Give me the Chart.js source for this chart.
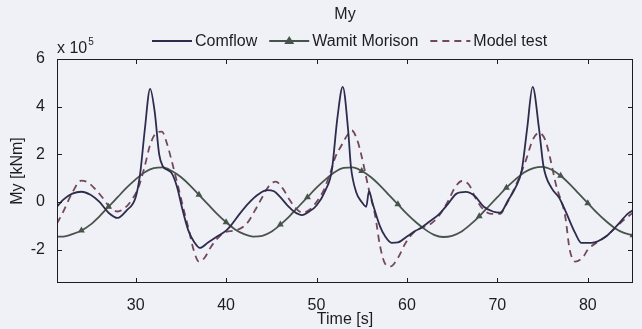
<!DOCTYPE html>
<html>
<head>
<meta charset="utf-8">
<script src="https://cdn.jsdelivr.net/npm/chart.js@4"></script>
<style>
  html, body { margin: 0; padding: 0; background: #f0f0f7; }
</style>
</head>
<body>
<canvas id="my" width="642" height="329"></canvas>
<script>
// Time [s] and My [x 1e5 kNm]
const comflowT = [21.3, 22, 23, 24, 25, 26, 27, 28, 29, 30, 30.5, 31, 31.6, 32.1, 32.6, 33, 33.5, 34, 34.6, 35.1,
  35.8, 36.5, 37.1, 38, 39, 40, 40.5, 41.5, 42.5, 43.5, 44.5, 45.3, 46, 46.8, 47.5, 48.4, 49.2, 50, 51, 51.7,
  52.3, 52.9, 53.5, 53.8, 54.4, 55, 55.5, 55.8, 56.2, 57, 57.6, 58.3, 59, 60, 61, 61.5, 62.5, 63.5, 64.5, 65.5,
  66.5, 67.5, 68.5, 69.5, 70.3, 71.2, 72, 72.7, 73.3, 73.9, 74.6, 75.1, 76, 76.8, 77.5, 78.6, 79.3, 80.4, 82,
  83.1, 84.5, 85];
const comflowY = [-0.2, 0.1, 0.35, 0.43, 0.3, 0.0, -0.45, -0.67, -0.35, 0.2, 1.2, 3.0, 4.75, 3.8, 2.0, 1.5, 1.35, 1.2, 0.6, -0.2,
  -1.17, -1.7, -1.93, -1.7, -1.45, -1.2, -1.0, -0.5, -0.05, 0.3, 0.5, 0.45, 0.2, -0.15, -0.4, -0.55, -0.4, -0.15, 0.5, 1.34,
  3.5, 4.83, 3.0, 1.5, 0.4, 0.0, -0.2, 0.45, -0.05, -1.0, -1.45, -1.72, -1.7, -1.45, -1.2, -1.1, -0.82, -0.53, -0.1, 0.35,
  0.42, 0.25, -0.2, -0.4, -0.45, 0.08, 0.6, 1.34, 3.1, 4.83, 3.1, 1.5, 0.58, 0.2, -0.35, -1.3, -1.72, -1.72, -1.45,
  -1.04, -0.47, -0.35];

const wamitT = [21.3, 22, 23, 24, 25, 26, 27, 28, 29, 30, 31, 32, 33, 34, 35, 36, 37, 38, 39, 40, 41, 42, 43,
  44, 45, 46, 47, 48, 49, 50, 51, 52, 53, 54, 55, 56, 57, 58, 59, 60, 61, 62, 63, 64, 65, 66, 67, 68, 69, 70,
  71, 72, 73, 74, 75, 76, 77, 78, 79, 80, 81, 82, 83, 84, 85];
const wamitY = [-1.45, -1.45, -1.35, -1.2, -0.95, -0.6, -0.2, 0.2, 0.6, 0.95, 1.25, 1.42, 1.45, 1.3, 1.05, 0.7, 0.3, -0.1, -0.5, -0.85, -1.15, -1.35, -1.45,
  -1.42, -1.25, -0.95, -0.6, -0.2, 0.2, 0.6, 0.95, 1.25, 1.43, 1.45, 1.3, 1.05, 0.7, 0.3, -0.1, -0.5, -0.85, -1.15, -1.38, -1.47, -1.42, -1.25, -0.95, -0.6, -0.2, 0.2,
  0.6, 0.95, 1.25, 1.42, 1.47, 1.35, 1.1, 0.75, 0.35, -0.05, -0.45, -0.8, -1.1, -1.3, -1.4];
// times at which the Wamit triangle markers are visible
const wamitMarkT = [24, 27, 37, 40, 46, 49, 55, 59, 68, 71, 77, 80, 85];

const modelT = [21.3, 22, 23, 24, 24.8, 25.5, 26.3, 27.1, 28, 28.8, 29.5, 30.3, 31, 31.6, 32.3, 32.9, 33.5, 34, 34.6, 35.3,
  35.9, 36.4, 37, 37.6, 38.3, 39, 40, 41, 42.3, 43.2, 44, 44.8, 45.5, 46.3, 47, 47.8, 48.5, 49.3, 50, 50.8,
  51.5, 52.1, 52.8, 53.4, 53.9, 54.5, 55, 55.8, 56.5, 57, 57.6, 58.2, 59, 59.8, 60.7, 61.5, 62.5, 63.5, 64.5, 65.3,
  66.1, 66.9, 67.6, 68.4, 69.3, 70.3, 71, 71.8, 72.5, 73.2, 73.9, 74.6, 75.3, 75.8, 76.5, 77.5, 78, 78.6, 79.5, 80,
  81, 82, 83, 84, 85];
const modelY = [-0.9, -0.4, 0.4, 0.9, 0.8, 0.55, 0.2, -0.2, -0.4, -0.25, 0.05, 0.6, 1.5, 2.4, 2.9, 2.95, 2.4, 1.7, 0.8, -0.3,
  -1.2, -2.0, -2.5, -2.35, -1.9, -1.55, -1.25, -1.2, -0.9, -0.35, 0.2, 0.7, 0.85, 0.55, 0.1, -0.3, -0.45, -0.3, 0.0, 0.5,
  1.2, 1.9, 2.4, 2.8, 3.0, 2.6, 1.9, 0.5, -0.6, -1.8, -2.6, -2.7, -2.35, -1.75, -1.3, -1.1, -0.95, -0.6, 0.0, 0.6,
  0.88, 0.7, 0.15, -0.3, -0.5, -0.5, -0.1, 0.5, 1.1, 1.8, 2.6, 2.9, 2.6, 1.9, 0.7, -0.6, -2.0, -2.5, -2.3, -2.0,
  -1.7, -1.45, -1.1, -0.75, -0.45];

const xTicks = [30, 40, 50, 60, 70, 80];
const yTicks = [-2, 0, 2, 4, 6];

const FONT = '"Liberation Sans", Arial, sans-serif';
const INK = '#1c1c22';

const pts = (t, v) => t.map((x, i) => ({ x: x, y: v[i] }));

// MATLAB-like frame, inward ticks, exponent, title and legend
const decor = {
  id: 'decor',
  afterDatasetsDraw(chart) {
    const { ctx, chartArea: a, scales: { x, y } } = chart;
    ctx.save();
    ctx.strokeStyle = INK;
    ctx.lineWidth = 1;
    ctx.setLineDash([]);
    ctx.strokeRect(a.left + 0.5, a.top + 0.5, a.right - a.left - 1, a.bottom - a.top - 1);
    ctx.beginPath();
    xTicks.forEach(v => {
      const p = Math.round(x.getPixelForValue(v)) + 0.5;
      ctx.moveTo(p, a.bottom); ctx.lineTo(p, a.bottom - 5);
      ctx.moveTo(p, a.top); ctx.lineTo(p, a.top + 5);
    });
    yTicks.forEach(v => {
      const p = Math.round(y.getPixelForValue(v)) + 0.5;
      ctx.moveTo(a.left, p); ctx.lineTo(a.left + 5, p);
      ctx.moveTo(a.right, p); ctx.lineTo(a.right - 5, p);
    });
    ctx.stroke();

    ctx.fillStyle = INK;
    ctx.textBaseline = 'alphabetic';
    ctx.textAlign = 'left';
    ctx.font = '16px ' + FONT;
    ctx.fillText('x 10', a.left, a.top - 6);
    const w = ctx.measureText('x 10').width;
    ctx.font = '10px ' + FONT;
    ctx.fillText('5', a.left + w + 1, a.top - 14);

    ctx.font = '16px ' + FONT;
    ctx.textAlign = 'center';
    ctx.textBaseline = 'middle';
    ctx.fillText('My', 345, 15);

    // legend
    const ly = 41;
    let lx = 152;
    ctx.textAlign = 'left';
    chart.data.datasets.forEach(ds => {
      ctx.strokeStyle = ds.borderColor;
      ctx.lineWidth = 1.8;
      ctx.setLineDash(ds.borderDash || []);
      ctx.beginPath();
      ctx.moveTo(lx, ly); ctx.lineTo(lx + 40, ly);
      ctx.stroke();
      ctx.setLineDash([]);
      if (ds.pointStyle === 'triangle') {
        ctx.fillStyle = ds.borderColor;
        ctx.beginPath();
        ctx.moveTo(lx + 20, ly - 5); ctx.lineTo(lx + 25, ly + 3); ctx.lineTo(lx + 15, ly + 3);
        ctx.closePath(); ctx.fill();
      }
      ctx.fillStyle = INK;
      ctx.fillText(ds.label, lx + 43, ly + 1);
      lx += 43 + ctx.measureText(ds.label).width + 12;
    });
    ctx.restore();
  }
};

new Chart(document.getElementById('my'), {
  type: 'line',
  data: {
    datasets: [
      {
        label: 'Comflow',
        data: pts(comflowT, comflowY),
        borderColor: '#2e2c4c',
        borderWidth: 1.8,
        pointRadius: 0,
        cubicInterpolationMode: 'monotone'
      },
      {
        label: 'Wamit Morison',
        data: pts(wamitT, wamitY),
        borderColor: '#47544a',
        backgroundColor: '#47544a',
        borderWidth: 1.8,
        pointStyle: 'triangle',
        pointRadius: c => (wamitMarkT.includes(wamitT[c.dataIndex]) ? 4 : 0),
        pointBorderWidth: 0,
        cubicInterpolationMode: 'monotone'
      },
      {
        label: 'Model test',
        data: pts(modelT, modelY),
        borderColor: '#74485c',
        borderWidth: 1.8,
        borderDash: [7, 5],
        pointRadius: 0,
        cubicInterpolationMode: 'monotone'
      }
    ]
  },
  options: {
    responsive: false,
    animation: false,
    events: [],
    devicePixelRatio: 1,
    layout: { padding: { top: 59, right: 9, left: 0, bottom: 0 } },
    plugins: {
      legend: { display: false },
      title: { display: false },
      tooltip: { enabled: false }
    },
    scales: {
      x: {
        type: 'linear',
        min: 21.3,
        max: 85,
        afterBuildTicks: s => { s.ticks = xTicks.map(v => ({ value: v })); },
        afterFit: s => { s.height = 46; },
        grid: { display: false },
        border: { display: false },
        ticks: { color: INK, font: { family: FONT, size: 16 }, padding: 5 },
        title: { display: true, text: 'Time [s]', color: INK, font: { family: FONT, size: 16 }, padding: { top: 2, bottom: 0 } }
      },
      y: {
        min: -3.4,
        max: 6,
        afterBuildTicks: s => { s.ticks = yTicks.map(v => ({ value: v })); },
        afterFit: s => { s.width = 57; },
        grid: { display: false },
        border: { display: false },
        ticks: { color: INK, font: { family: FONT, size: 16 }, padding: 4 },
        title: { display: true, text: 'My [kNm]', color: INK, font: { family: FONT, size: 16 }, padding: { top: 8, bottom: 0 } }
      }
    }
  },
  plugins: [decor]
});
</script>
</body>
</html>
